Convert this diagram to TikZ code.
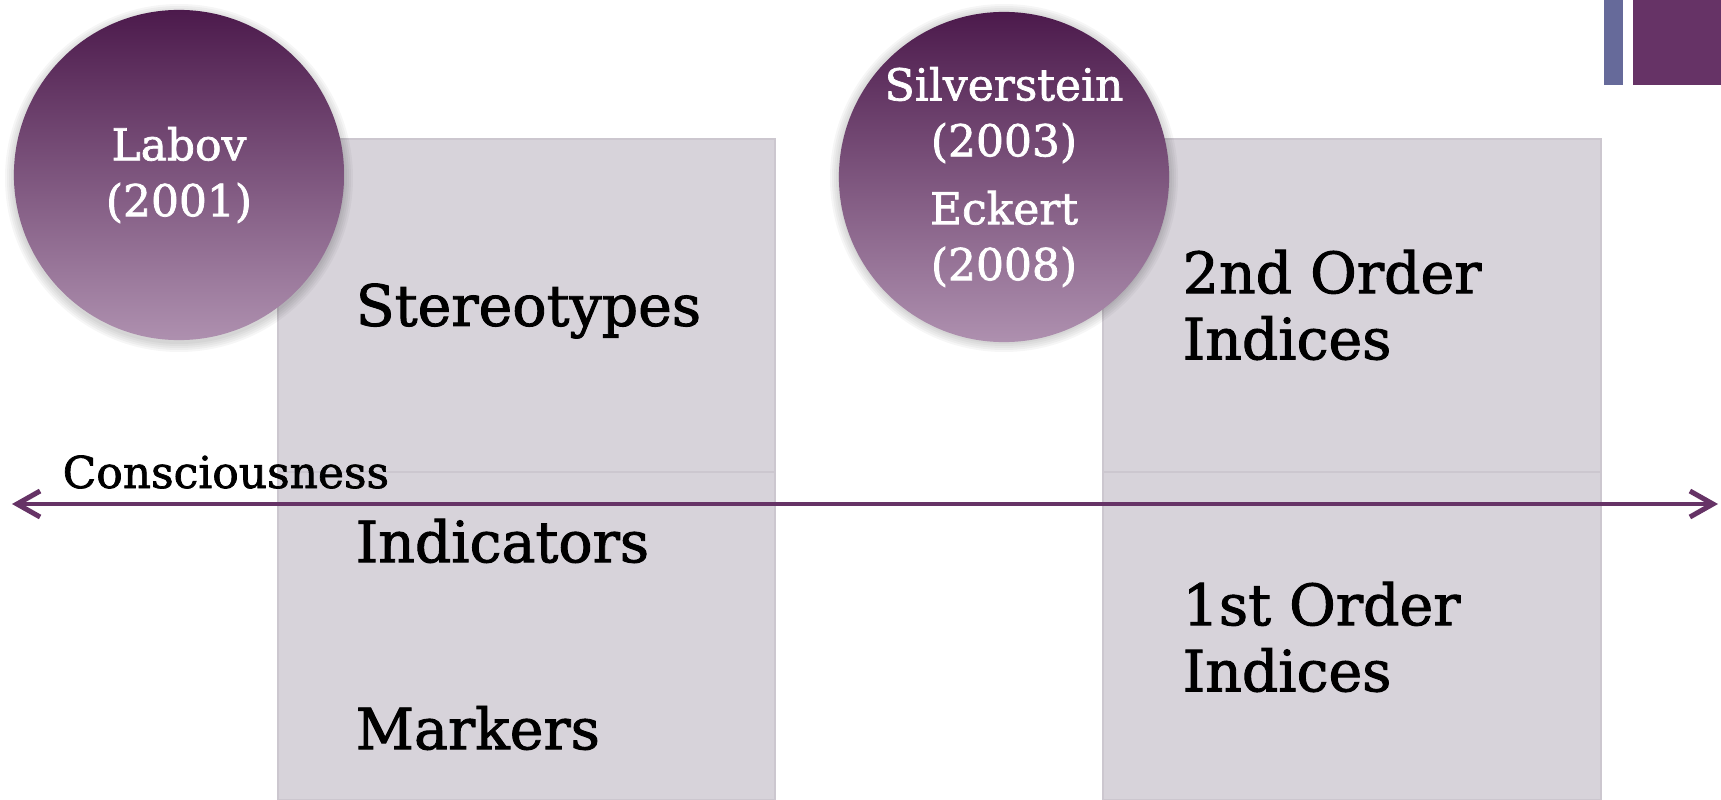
\documentclass[tikz,border=0pt]{standalone}
\usepackage{fontspec}
\setmainfont{DejaVu Serif}[FakeBold=1.6]
\usetikzlibrary{arrows.meta}
\definecolor{boxfill}{HTML}{D7D3DA}
\definecolor{boxline}{HTML}{CCC7CF}
\definecolor{plum}{HTML}{663366}
\definecolor{slate}{HTML}{666A9A}
\definecolor{circtop}{HTML}{4C1A4C}
\definecolor{circbot}{HTML}{AE90AF}
\begin{document}
\begin{tikzpicture}[x=0.01cm,y=-0.01cm,
  panel/.style={draw=boxline, line width=0.4pt, fill=boxfill},
  bigtext/.style={anchor=west, align=left, font=\fontsize{16.2}{18.8}\selectfont, inner sep=0pt},
  smalltext/.style={anchor=west, font=\fontsize{12.5}{15.9}\selectfont, inner sep=0pt},
  circlabel/.style={circle, minimum size=3.3cm, inner sep=0pt, top color=circtop, bottom color=circbot, text=white, align=center, font=\fontsize{12.5}{15.9}\selectfont},
  axis/.style={draw=plum, line width=0.04cm, {Straight Barb[length=0.23cm,width=0.26cm,line width=0.05cm]}-{Straight Barb[length=0.23cm,width=0.26cm,line width=0.05cm]}},
  shadowdisc/.style={fill=black, opacity=0.035}
]
\useasboundingbox (0,0) rectangle (1721,800);
% corner bars
\fill[slate] (1604,0) rectangle (1623,85);
\fill[plum] (1633,0) rectangle (1721,85);
% panels
\path[panel] (278,139) rectangle (775,472);
\path[panel] (278,472) rectangle (775,800);
\path[panel] (1103,139) rectangle (1601,472);
\path[panel] (1103,472) rectangle (1601,800);
% circle shadows
\foreach \r in {166,168,170,172,174}{
  \fill[shadowdisc] (179,178) circle[radius=\r];
  \fill[shadowdisc] (1004,178) circle[radius=\r];
}
% circles
\node (labov) [circlabel] at (179,175) {Labov\\(2001)};
\node (silv) [circlabel] at (1004,177) {Silverstein\\(2003)\\[0.12cm]Eckert\\(2008)};
% axis
\coordinate (aL) at (12,504);
\coordinate (aR) at (1718,504);
\draw[axis] (aL) -- (aR);
\node (cons) [smalltext] at (62,472) {Consciousness};
% panel texts
\node (stereo) [bigtext] at (355,311) {Stereotypes};
\node (indic) [bigtext] at (355,541) {Indicators};
\node (mark) [bigtext] at (355,728) {Markers};
\node (second) [bigtext] at (1182,305) {2nd Order\\Indices};
\node (first) [bigtext] at (1182,637) {1st Order\\Indices};
\end{tikzpicture}
\end{document}
